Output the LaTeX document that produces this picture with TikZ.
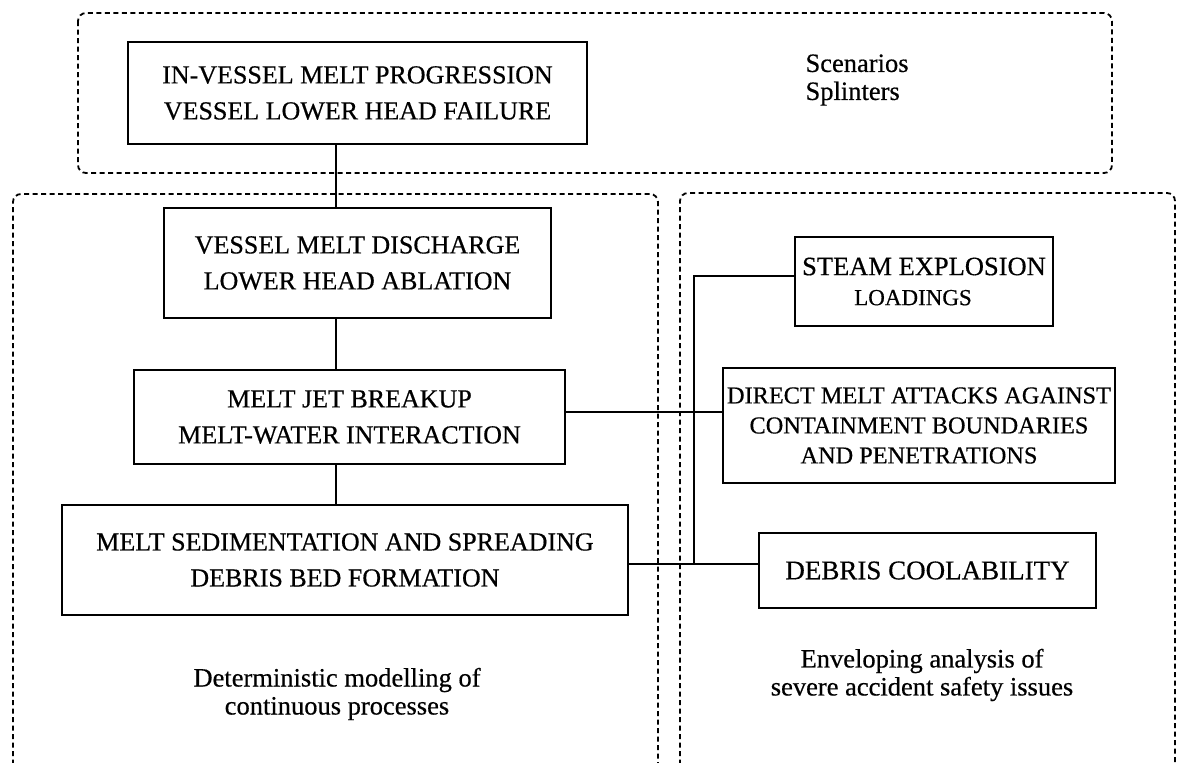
\documentclass[tikz,border=0pt]{standalone}
\usepackage{fontspec}
\setmainfont{Liberation Serif}[FakeBold=0.5]
\begin{document}
\begin{tikzpicture}[x=1pt,y=-1pt,
  box/.style={draw, line width=1.2pt, inner sep=0pt, align=center, font=\fontsize{26}{36}\selectfont},
  group/.style={draw, line width=1.8pt, dash pattern=on 5pt off 3.5pt, rounded corners=8pt},
  link/.style={draw, line width=1.1pt},
  lbl/.style={align=center, font=\fontsize{26.5}{28}\selectfont}]
\useasboundingbox (0,0) rectangle (1181,763);
\clip (0,0) rectangle (1181,763);
\fill[white] (0,0) rectangle (1181,763);

% dashed groups
\draw[group] (78,13) rectangle (1112,173);
\draw[group] (13,790) -- (13,194) -- (658,194) -- (658,790);
\draw[group] (680,790) -- (680,193) -- (1175,193) -- (1175,790);

% boxes
\node[box, minimum width=459pt, minimum height=102pt] (topb) at (357.5,93)
  {IN-VESSEL MELT PROGRESSION\\VESSEL LOWER HEAD FAILURE};
\node[box, minimum width=387pt, minimum height=110pt] (vessel) at (357.5,263)
  {VESSEL MELT DISCHARGE\\LOWER HEAD ABLATION};
\node[box, minimum width=431pt, minimum height=94pt] (meltjet) at (349.5,417)
  {MELT JET BREAKUP\\MELT-WATER INTERACTION};
\node[box, minimum width=566pt, minimum height=110pt] (meltsed) at (345,560)
  {MELT SEDIMENTATION AND SPREADING\\DEBRIS BED FORMATION};
\node[box, minimum width=258pt, minimum height=89pt, font=\fontsize{26.5}{30}\selectfont] (steam) at (924,281.5)
  {STEAM EXPLOSION\\{\fontsize{23}{30}\selectfont LOADINGS}\hspace*{22pt}};
\node[box, minimum width=392pt, minimum height=115pt, font=\fontsize{24.3}{30}\selectfont] (direct) at (919,425.5)
  {DIRECT MELT ATTACKS AGAINST\\CONTAINMENT BOUNDARIES\\AND PENETRATIONS};
\node[box, minimum width=337pt, minimum height=75pt, font=\fontsize{27}{36}\selectfont] (debris) at (927.5,570.5)
  {DEBRIS COOLABILITY};

% labels
\node[lbl, align=left, anchor=west] (scen) at (802,80) {Scenarios\\Splinters};
\node[lbl] (determ) at (337,694) {Deterministic modelling of\\continuous processes};
\node[lbl] (envel) at (922,675) {Enveloping analysis of\\severe accident safety issues};

% connector helpers
\coordinate (cx) at (336,0);
\coordinate (ly1) at (0,412);
\coordinate (ly2) at (0,564);
\coordinate (ly3) at (0,276);
\coordinate (jx) at (694,564);

\draw[link] (topb.south -| cx) -- (vessel.north -| cx);
\draw[link] (vessel.south -| cx) -- (meltjet.north -| cx);
\draw[link] (meltjet.south -| cx) -- (meltsed.north -| cx);
\draw[link] (meltjet.east |- ly1) -- (direct.west |- ly1);
\draw[link] (meltsed.east |- ly2) -- (debris.west |- ly2);
\draw[link] (steam.west |- ly3) -| (jx);
\end{tikzpicture}
\end{document}
